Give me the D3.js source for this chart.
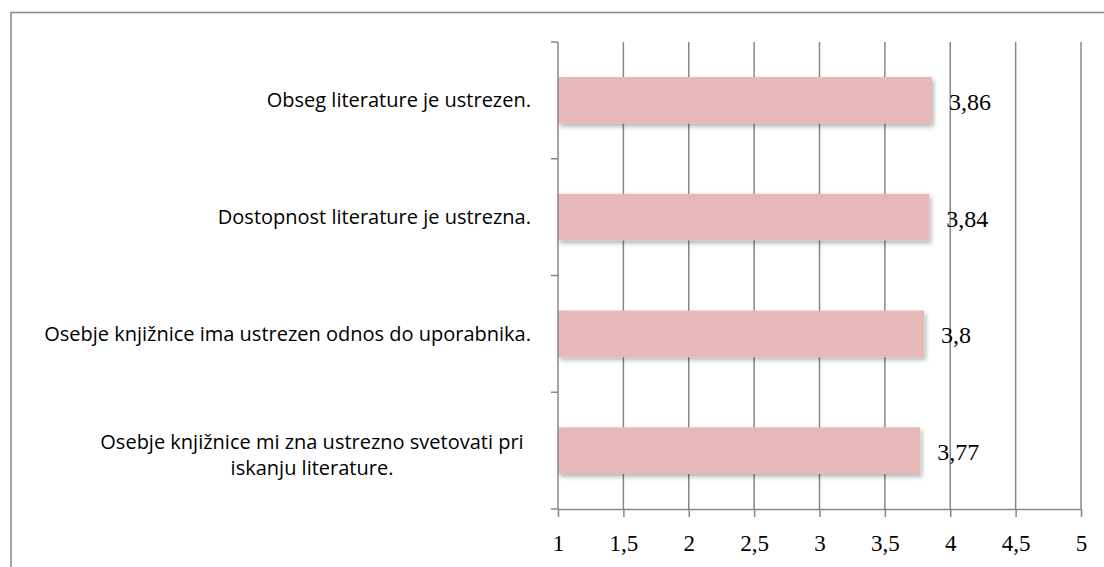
<!DOCTYPE html>
<html>
<head>
<meta charset="utf-8">
<script src="https://cdn.jsdelivr.net/npm/d3@7"></script>
<style>
  body { margin: 0; background: #fff; }
  svg { display: block; }
</style>
</head>
<body>
<div id="chart"></div>
<script>
// podatki
const categories = [
  "Obseg literature je ustrezen.",
  "Dostopnost literature je ustrezna.",
  "Osebje knjižnice ima ustrezen odnos do uporabnika.",
  "Osebje knjižnice mi zna ustrezno svetovati pri|iskanju literature."
];
const values = [3.86, 3.84, 3.8, 3.77];
const valueLabels = ["3,86", "3,84", "3,8", "3,77"];
const tickValues = [1, 1.5, 2, 2.5, 3, 3.5, 4, 4.5, 5];
const tickLabels = ["1", "1,5", "2", "2,5", "3", "3,5", "4", "4,5", "5"];

const width = 1104;
const height = 567;
const margin = { left: 558, right: 23, top: 42, bottom: 58 };

const svg = d3.select("#chart").append("svg")
  .attr("width", width)
  .attr("height", height);

// senca za stolpce
const defs = svg.append("defs");
defs.append("filter")
  .attr("id", "shadow")
  .attr("x", "-5%").attr("y", "-20%")
  .attr("width", "115%").attr("height", "160%")
  .append("feDropShadow")
  .attr("dx", 2).attr("dy", 3)
  .attr("stdDeviation", 2)
  .attr("flood-color", "#000")
  .attr("flood-opacity", 0.28);

// okvir
svg.append("rect")
  .attr("x", 11).attr("y", 12.5)
  .attr("width", 1110).attr("height", 600)
  .attr("fill", "none")
  .attr("stroke", "#868686")
  .attr("stroke-width", 1.5);

const x = d3.scaleLinear()
  .domain([1, 5])
  .range([margin.left, width - margin.right]);

const y = d3.scaleBand()
  .domain(categories)
  .range([margin.top, height - margin.bottom])
  .paddingInner(0.6)
  .paddingOuter(0.3);

const bandStep = (height - margin.bottom - margin.top) / categories.length;

// mreža
svg.append("g")
  .selectAll("line")
  .data(tickValues.slice(1))
  .join("line")
  .attr("x1", (d) => x(d)).attr("x2", (d) => x(d))
  .attr("y1", margin.top).attr("y2", height - margin.bottom)
  .attr("stroke", "#878787")
  .attr("stroke-width", 1.5);

// stolpci
svg.append("g")
  .selectAll("rect")
  .data(values)
  .join("rect")
  .attr("x", x(1))
  .attr("y", (d, i) => y(categories[i]))
  .attr("width", (d) => x(d) - x(1))
  .attr("height", y.bandwidth())
  .attr("fill", "#e6b9b8")
  .attr("filter", "url(#shadow)");

// os x
const xAxis = svg.append("g")
  .attr("transform", `translate(0,${height - margin.bottom})`)
  .call(d3.axisBottom(x)
    .tickValues(tickValues)
    .tickFormat((d, i) => tickLabels[i])
    .tickSizeInner(8)
    .tickSizeOuter(0)
    .tickPadding(18));
xAxis.select(".domain").attr("stroke", "#878787").attr("stroke-width", 1.5);
xAxis.selectAll(".tick line").attr("stroke", "#878787").attr("stroke-width", 1.5);
xAxis.selectAll(".tick text")
  .attr("fill", "#000")
  .style("font-family", "'Liberation Serif', 'DejaVu Serif', serif")
  .style("font-size", "23px");

// os y
const yAxisTicks = d3.range(categories.length + 1).map((i) => margin.top + i * bandStep);
svg.append("line")
  .attr("x1", x(1)).attr("x2", x(1))
  .attr("y1", margin.top).attr("y2", height - margin.bottom)
  .attr("stroke", "#878787").attr("stroke-width", 1.5);
svg.append("g")
  .selectAll("line")
  .data(yAxisTicks)
  .join("line")
  .attr("x1", x(1) - 7).attr("x2", x(1))
  .attr("y1", (d) => d).attr("y2", (d) => d)
  .attr("stroke", "#878787").attr("stroke-width", 1.5);

// oznake kategorij
const labelX = x(1) - 27;
svg.append("g")
  .selectAll("text")
  .data(categories)
  .join("text")
  .attr("y", (d) => y(d) + y.bandwidth() / 2)
  .style("font-family", "'Open Sans', 'Noto Sans', sans-serif")
  .style("font-size", "20px")
  .attr("fill", "#000")
  .each(function (d) {
    const lines = d.split("|");
    const t = d3.select(this);
    if (lines.length === 1) {
      t.attr("x", labelX).attr("dy", "0.35em").attr("text-anchor", "end").text(d);
    } else {
      // dvovrstična oznaka je centrirana
      lines.forEach((line, i) => {
        t.append("tspan")
          .attr("x", 312)
          .attr("dy", i === 0 ? "-0.1em" : "1.3em")
          .attr("text-anchor", "middle")
          .text(line);
      });
    }
  });

// vrednosti
svg.append("g")
  .selectAll("text")
  .data(values)
  .join("text")
  .attr("x", (d) => x(d) + 17)
  .attr("y", (d, i) => y(categories[i]) + y.bandwidth() / 2 + 1)
  .attr("dy", "0.35em")
  .style("font-family", "'Liberation Serif', 'DejaVu Serif', serif")
  .style("font-size", "24px")
  .attr("fill", "#000")
  .text((d, i) => valueLabels[i]);
</script>
</body>
</html>
